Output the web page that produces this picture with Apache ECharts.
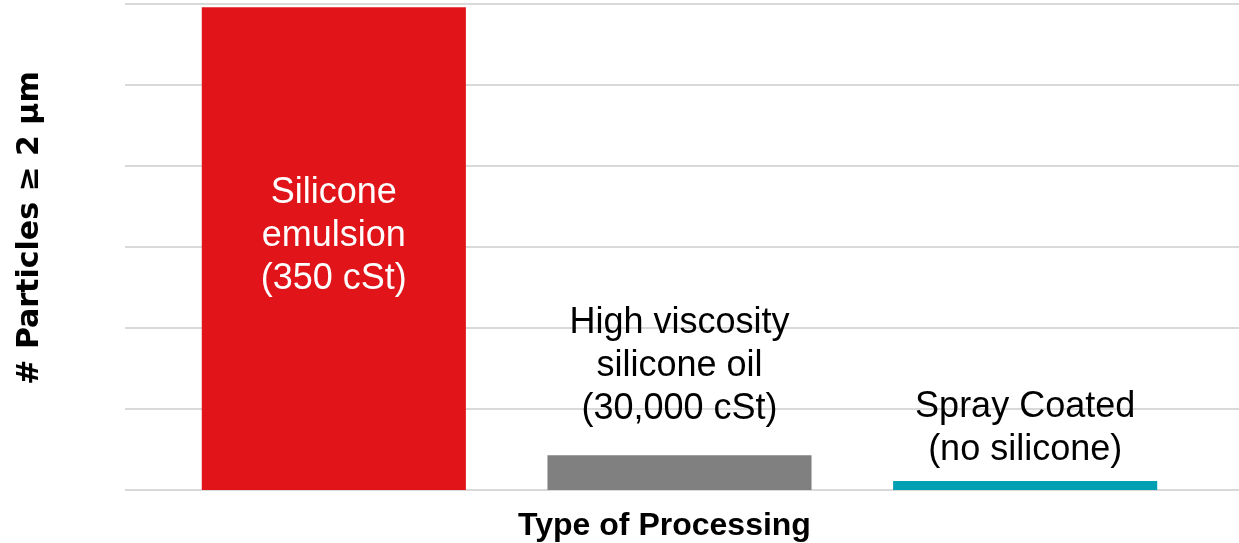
<!DOCTYPE html>
<html>
<head>
<meta charset="utf-8">
<script src="https://cdn.jsdelivr.net/npm/echarts@6/dist/echarts.min.js"></script>
<style>
html,body{margin:0;padding:0;background:#fff;}
#chart{width:1239px;height:543px;}
</style>
</head>
<body>
<div id="chart"></div>
<script>
// Data
const categories = ["Silicone\nemulsion\n(350 cSt)", "High viscosity\nsilicone oil\n(30,000 cSt)", "Spray Coated\n(no silicone)"];
const values = [5.96, 0.43, 0.11];
const yAxisMin = 0, yAxisMax = 6, yAxisInterval = 1;
const xAxisTitle = "Type of Processing";
const yAxisTitle = "# Particles \u2265 2 \u00b5m";

const palette = ["#E01419", "#808080", "#009FB1"];
const FONT = "Liberation Sans, Arial, sans-serif";

const chart = echarts.init(document.getElementById('chart'), null, {renderer: 'canvas'});

const labelPlacement = [
  { position: 'inside', color: '#fff', offset: [0, -13] },
  { position: 'top', color: '#000', distance: 25 },
  { position: 'top', color: '#000', distance: 10 }
];

const seriesData = values.map((v, i) => ({
  value: v,
  itemStyle: { color: palette[i] },
  label: labelPlacement[i]
}));

chart.setOption({
  animation: false,
  backgroundColor: '#fff',
  grid: [
    { left: 125, right: 0, top: 4, bottom: 53, outerBoundsMode: 'none', containLabel: false },
    { left: 161, right: 41, top: 4, bottom: 53, outerBoundsMode: 'none', containLabel: false }
  ],
  xAxis: [
    { gridIndex: 0, type: 'category', data: [], show: false },
    {
      gridIndex: 1, type: 'category', data: categories,
      axisLine: { show: false }, axisTick: { show: false }, axisLabel: { show: false },
      name: xAxisTitle, nameLocation: 'middle', nameGap: 20,
      nameTextStyle: { fontFamily: FONT, fontSize: 32, fontWeight: 'bold', color: '#000', padding: [0, 30, 0, 0] }
    }
  ],
  yAxis: [
    {
      gridIndex: 0, type: 'value', min: yAxisMin, max: yAxisMax, interval: yAxisInterval,
      axisLine: { show: false }, axisTick: { show: false }, axisLabel: { show: false },
      splitLine: { show: true, lineStyle: { color: '#d9d9d9', width: 2 } },
      name: yAxisTitle, nameLocation: 'middle', nameGap: 80, nameRotate: 90,
      nameTextStyle: { fontFamily: 'DejaVu Sans, sans-serif', fontSize: 30, fontWeight: 'bold', color: '#000', padding: [0, 0, 0, 38] }
    },
    {
      gridIndex: 1, type: 'value', min: yAxisMin, max: yAxisMax, interval: yAxisInterval,
      show: false, splitLine: { show: false }
    }
  ],
  series: [{
    type: 'bar', xAxisIndex: 1, yAxisIndex: 1,
    data: seriesData,
    barWidth: '76.4%',
    label: {
      show: true,
      formatter: (p) => categories[p.dataIndex],
      fontFamily: FONT, fontSize: 36, lineHeight: 43, align: 'center'
    }
  }]
});
</script>
</body>
</html>
